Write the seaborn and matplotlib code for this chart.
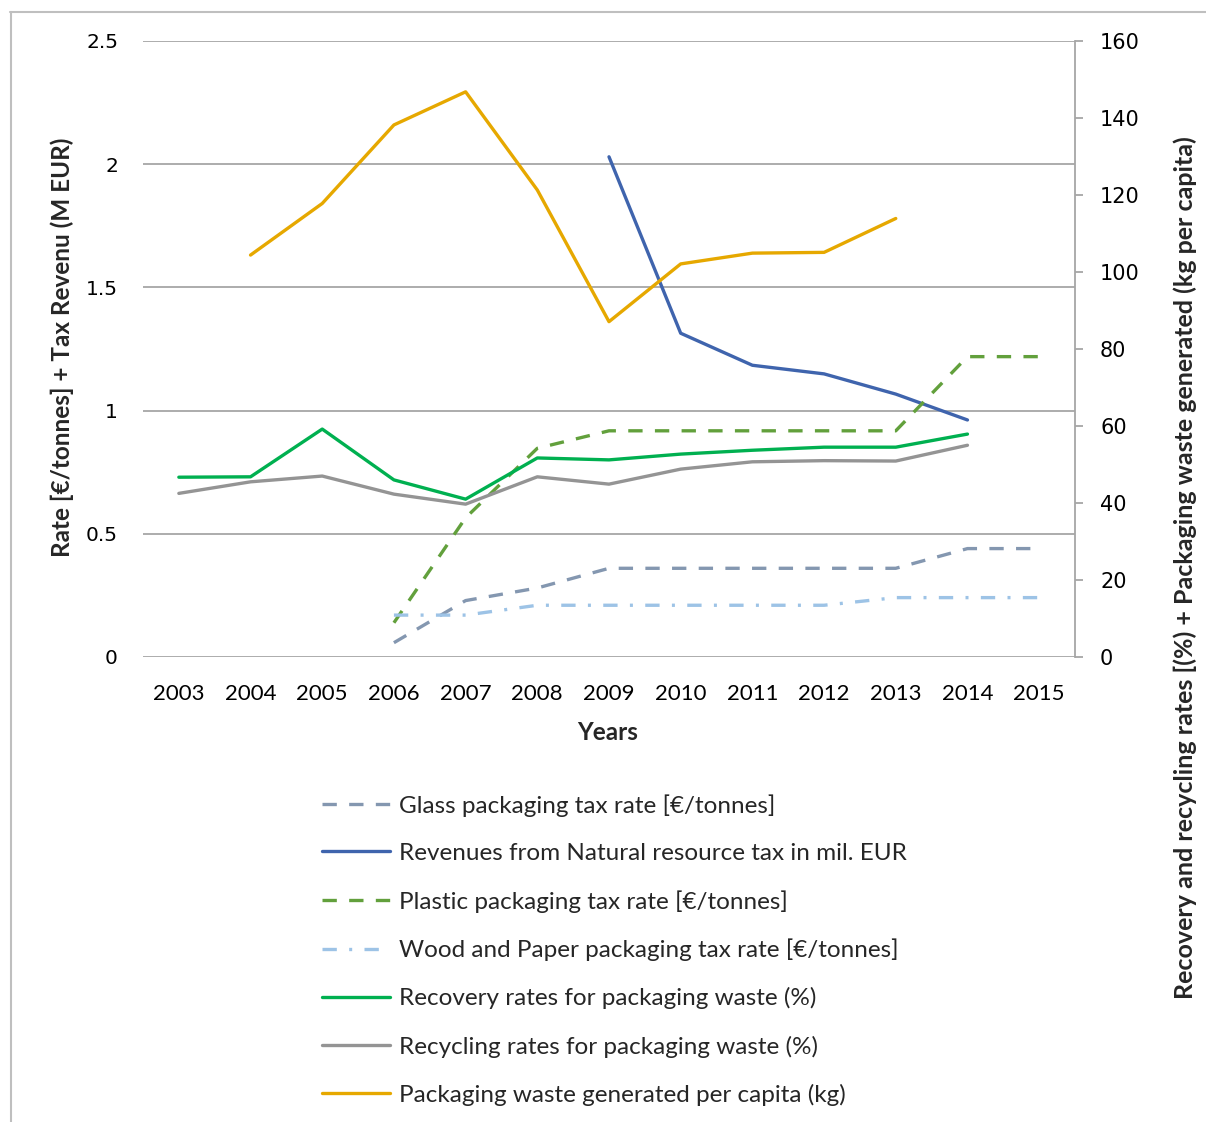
import matplotlib
matplotlib.use("Agg")
import matplotlib.pyplot as plt
from matplotlib.lines import Line2D
import seaborn as sns

# Datos
years = list(range(2003, 2016))

glass_years = list(range(2006, 2016))
glass_rate = [0.058, 0.229, 0.28, 0.36, 0.36, 0.36, 0.36, 0.36, 0.44, 0.44]

revenue_years = list(range(2009, 2015))
revenue = [2.03, 1.314, 1.184, 1.149, 1.067, 0.962]

plastic_years = list(range(2006, 2016))
plastic_rate = [0.139, 0.565, 0.847, 0.918, 0.918, 0.918, 0.918, 0.918, 1.219, 1.219]

wood_years = list(range(2006, 2016))
wood_rate = [0.17, 0.17, 0.21, 0.21, 0.21, 0.21, 0.21, 0.241, 0.241, 0.241]

rate_years = list(range(2003, 2015))
recovery = [46.7, 46.8, 59.2, 46.0, 41.0, 51.7, 51.2, 52.7, 53.7, 54.5, 54.5, 57.9]
recycling = [42.5, 45.5, 47.0, 42.3, 39.7, 46.8, 44.9, 48.8, 50.7, 51.0, 50.9, 55.0]

waste_years = list(range(2004, 2014))
waste_per_capita = [104.4, 117.8, 138.2, 146.8, 121.3, 87.1, 102.1, 104.9, 105.1, 113.9]

left_ticks = [0, 0.5, 1, 1.5, 2, 2.5]
left_tick_labels = ["0", "0.5", "1", "1.5", "2", "2.5"]
right_ticks = list(range(0, 161, 20))

sns.set_style("white")
plt.rcParams['font.family'] = ['Lato', 'DejaVu Sans']

W, H = 1206, 1122
fig = plt.figure(figsize=(W / 100, H / 100), dpi=100)
ax = fig.add_axes([143 / W, 1 - 657 / H, (1075 - 143) / W, (657 - 41) / H])
ax2 = ax.twinx()

LW = 2.4
dash = (0, (4.3, 3.7))
dashdot = (0, (4.3, 3.7, 0.9, 3.7))

sns.lineplot(x=glass_years, y=glass_rate, ax=ax, color='#8497B0', lw=LW,
             linestyle=dash, label='Glass packaging tax rate [€/tonnes]')
sns.lineplot(x=revenue_years, y=revenue, ax=ax, color='#3F64AD', lw=LW,
             label='Revenues from Natural resource tax in mil. EUR')
sns.lineplot(x=plastic_years, y=plastic_rate, ax=ax, color='#62A03C', lw=LW,
             linestyle=dash, label='Plastic packaging tax rate [€/tonnes]')
sns.lineplot(x=wood_years, y=wood_rate, ax=ax, color='#9DC3E6', lw=LW,
             linestyle=dashdot, label='Wood and Paper packaging tax rate [€/tonnes]')

sns.lineplot(x=rate_years, y=recovery, ax=ax2, color='#00B050', lw=LW,
             label='Recovery rates for packaging waste (%)')
sns.lineplot(x=rate_years, y=recycling, ax=ax2, color='#949494', lw=LW,
             label='Recycling rates for packaging waste (%)')
sns.lineplot(x=waste_years, y=waste_per_capita, ax=ax2, color='#E6A800', lw=LW,
             label='Packaging waste generated per capita (kg)')

# Ejes
ax.set_xlim(2002.5, 2015.5)
ax.set_ylim(0, 2.5)
ax2.set_ylim(0, 160)
ax.set_xticks(years)
ax.set_xticklabels([str(y) for y in years], fontsize=16)
ax.set_yticks(left_ticks)
ax.set_yticklabels(left_tick_labels, fontsize=14.5, family='DejaVu Sans')
ax2.set_yticks(right_ticks)
ax2.set_yticklabels([str(t) for t in right_ticks], fontsize=15, family='DejaVu Sans')

ax.grid(axis='y', color='#a6a6a6', lw=1.3)
ax.grid(axis='x', visible=False)
ax2.grid(False)
for s in ax.spines.values():
    s.set_visible(False)
for name, s in ax2.spines.items():
    s.set_visible(name == 'right')
ax2.spines['right'].set_color('#a6a6a6')
ax2.spines['right'].set_linewidth(1.3)

ax.tick_params(axis='x', length=0, pad=19.5, colors='black')
ax.tick_params(axis='y', length=0, pad=18, colors='black')
ax2.tick_params(axis='y', length=6, width=1.3, color='#a6a6a6', pad=12,
                labelcolor='black', direction='out')

ax.set_xlabel('Years', fontsize=17.5, weight='bold')
ax.xaxis.set_label_coords(0.499, (657 - 732) / 616)
ax.xaxis.label.set_va('center')

ax.set_ylabel('Rate [€/tonnes] + Tax Revenu (M EUR)', fontsize=17.5, weight='bold')
ax.yaxis.set_label_coords((62 - 143) / 932, (657 - 347.5) / 616)
ax.yaxis.label.set_va('center')

ax2.set_ylabel('Recovery and recycling rates [(%) + Packaging waste generated (kg per capita)',
               fontsize=18, weight='bold')
ax2.yaxis.set_label_coords((1185 - 143) / 932, (657 - 567.5) / 616)
ax2.yaxis.label.set_va('center')

# Leyenda común
h1, l1 = ax.get_legend_handles_labels()
h2, l2 = ax2.get_legend_handles_labels()
ax.get_legend().remove()
ax2.get_legend().remove()
fig.legend(h1 + h2, l1 + l2, loc='upper left', bbox_to_anchor=(322 / W, 1 - 794 / H),
           frameon=False, fontsize=17.5, handlelength=2.8, handletextpad=0.37,
           labelspacing=1.075, borderpad=0, borderaxespad=0)

# Marco exterior
fig.add_artist(Line2D([10.5 / W, 10.5 / W], [0, 1 - 12 / H], transform=fig.transFigure,
                      color='#bfbfbf', lw=1.5))
fig.add_artist(Line2D([10 / W, 1], [1 - 12 / H, 1 - 12 / H], transform=fig.transFigure,
                      color='#bfbfbf', lw=1.5))

fig.savefig('out.png', dpi=100)
